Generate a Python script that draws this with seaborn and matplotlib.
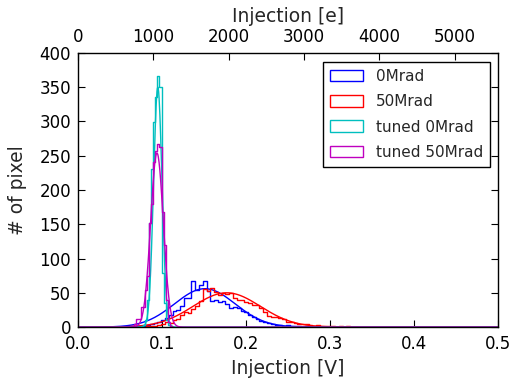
import numpy as np
import pandas as pd
import matplotlib
matplotlib.use("Agg")
import matplotlib.pyplot as plt
import seaborn as sns
from matplotlib.patches import Patch

# ---------------- data ----------------
labels = ["0Mrad", "50Mrad", "tuned 0Mrad", "tuned 50Mrad"]
colors = ["#0000ff", "#ff0000", "#00bfbf", "#bf00bf"]

# untuned histograms: bins of 0.0045 V starting at 0.054 V
wide_start = 0.054
wide_width = 0.0045
blue_counts = [0, 0, 1, 1, 2, 2, 3, 4, 6, 8, 10, 13, 17, 23, 25, 31, 42, 42, 67, 54,
               62, 67, 52, 38, 40, 36, 38, 34, 28, 30, 28, 24, 22, 17, 14, 12, 9, 8, 6, 5,
               3, 3, 2, 3, 1, 1, 2, 0, 1, 0]
red_counts = [0, 0, 0, 0, 0, 0, 1, 2, 2, 3, 4, 7, 6, 10, 12, 18, 22, 20, 26, 31,
              38, 56, 53, 57, 51, 47, 50, 48, 50, 43, 39, 40, 37, 35, 32, 32, 28, 22, 16, 14,
              15, 13, 12, 8, 7, 6, 5, 5, 4, 3, 2, 3, 2, 1, 2, 1, 0, 1, 0, 1, 0, 0]

# tuned histograms: bins of 0.0025 V starting at 0.062 V
tuned_start = 0.062
tuned_width = 0.0025
cyan_counts = [0, 0, 0, 0, 0, 1, 3, 10, 40, 152, 230, 299, 336, 366, 350, 79, 35, 10, 3, 1, 0]
magenta_counts = [0, 2, 5, 12, 12, 29, 29, 54, 75, 152, 180, 241, 257, 267, 262, 168, 120, 39, 8, 2, 0]

# gaussian fit parameters (amplitude, mean [V], sigma [V])
fit_amp = [56, 50, 350, 254]
fit_mean = [0.151, 0.177, 0.095, 0.094]
fit_sigma = [0.036, 0.040, 0.005, 0.0075]

e_per_volt = 11150.0
top_ticks = [0, 1000, 2000, 3000, 4000, 5000]
bottom_ticks = [0.0, 0.1, 0.2, 0.3, 0.4, 0.5]
y_ticks = [0, 50, 100, 150, 200, 250, 300, 350, 400]

# ---------------- style ----------------
sns.set_theme(style="white")
plt.rcParams["font.family"] = ["DejaVu Sans"]
plt.rcParams["font.size"] = 10.5

fig = plt.figure(figsize=(5.13, 3.83), dpi=100)
fig.patch.set_facecolor("white")
ax = fig.add_axes([0.152, 0.146, 0.819, 0.716])
ax.set_facecolor("white")


def edges_for(start, width, n):
    return start + width * np.arange(n + 1)


hists = [
    (blue_counts, wide_start, wide_width),
    (red_counts, wide_start, wide_width),
    (cyan_counts, tuned_start, tuned_width),
    (magenta_counts, tuned_start, tuned_width),
]

xfit = np.linspace(0.0, 0.5, 1001)
for (counts, start, width), col, lab, A, mu, sg in zip(hists, colors, labels, fit_amp, fit_mean, fit_sigma):
    counts = np.asarray(counts, dtype=float)
    edges = edges_for(start, width, len(counts))
    centers = 0.5 * (edges[:-1] + edges[1:])
    hdf = pd.DataFrame({"v": centers, "n": counts})
    sns.histplot(data=hdf, x="v", weights="n", bins=edges.tolist(), element="step", fill=False,
                 color=col, linewidth=1.0, ax=ax)
    df = pd.DataFrame({"x": xfit, "y": A * np.exp(-0.5 * ((xfit - mu) / sg) ** 2)})
    sns.lineplot(data=df, x="x", y="y", color=col, linewidth=1.0, ax=ax)

ax.set_xlim(0, 0.5)
ax.set_ylim(0, 400)
ax.set_xticks(bottom_ticks)
ax.set_xticklabels([f"{t:.1f}" for t in bottom_ticks])
ax.set_yticks(y_ticks)
ax.set_xlabel("Injection [V]", fontsize=13.5, labelpad=4)
ax.set_ylabel("# of pixel", fontsize=13.5, labelpad=9)
for s in ax.spines.values():
    s.set_visible(True)
    s.set_color("black")
    s.set_linewidth(1.0)
ax.tick_params(axis="both", direction="in", length=5, width=0.8, colors="black",
               labelsize=12, pad=5)
ax.tick_params(axis="y", left=True, right=True)
ax.tick_params(axis="x", bottom=True, top=False, pad=6)

handles = [Patch(facecolor="none", edgecolor=c, linewidth=1.0) for c in colors]
leg = ax.legend(handles, labels, loc="upper right", fontsize=11, fancybox=False,
                framealpha=1, edgecolor="black", borderpad=0.45, labelspacing=0.68,
                handlelength=2.2, handleheight=0.8, handletextpad=0.85,
                borderaxespad=0.5, bbox_to_anchor=(1.0, 0.995))
leg.get_frame().set_linewidth(1.0)

ax2 = ax.twiny()
ax2.set_xlim(0, 0.5 * e_per_volt)
ax2.set_xticks(top_ticks)
ax2.set_xlabel("Injection [e]", fontsize=13.5, labelpad=4)
ax2.tick_params(axis="x", direction="in", length=5, width=0.8, colors="black",
                labelsize=12, pad=5, top=True, bottom=False)
for s in ax2.spines.values():
    s.set_visible(False)

fig.savefig("out.png", dpi=100, facecolor="white")
